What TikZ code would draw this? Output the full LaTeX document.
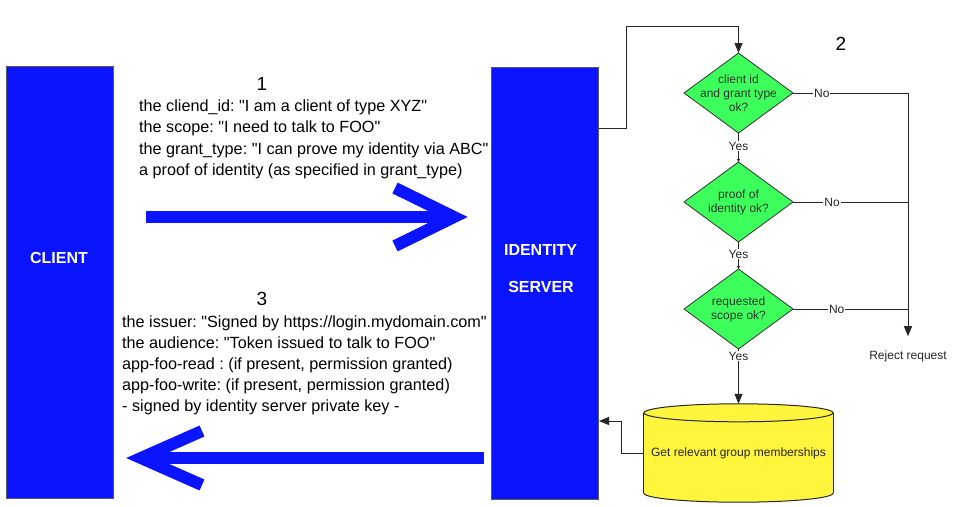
\documentclass[tikz,border=0pt]{standalone}
\usepackage{fontspec}
\setmainfont{Liberation Sans}
\usetikzlibrary{shapes.geometric,arrows.meta,backgrounds}
\definecolor{bblue}{HTML}{0A14FF}
\definecolor{dgreen}{HTML}{3CFF5C}
\definecolor{dyellow}{HTML}{FFF53C}
\newcommand{\qq}{\textquotedbl}
\frenchspacing
\begin{document}
\begin{tikzpicture}[x=1pt,y=-1pt,
  party/.style={draw=black!65, line width=1pt, fill=bblue, minimum width=107pt, minimum height=432pt, inner sep=0pt, anchor=north west},
  ptext/.style={text=white, font=\fontsize{16}{19}\selectfont\bfseries},
  body/.style={anchor=base west, inner sep=0pt, font=\fontsize{16.2}{19}\selectfont},
  num/.style={inner sep=0pt, font=\fontsize{19}{22}\selectfont},
  dia/.style={diamond, draw=black!80, line width=0.8pt, fill=dgreen, inner sep=0pt, outer sep=0pt, minimum width=109pt, minimum height=80pt},
  dtext/.style={align=center, inner sep=0pt, text=black!80, font=\fontsize{12}{14}\selectfont},
  small/.style={inner sep=1pt, text=black!85, font=\fontsize{12}{14}\selectfont},
  lbl/.style={small, fill=white},
  conn/.style={draw=black!85, line width=1pt},
  arr/.style={-{Triangle[length=10pt,width=8pt]}},
  tinyarr/.style={-{Triangle[length=3pt,width=3pt]}},
  bigarrow/.style={draw=bblue, line width=12pt, line join=miter, miter limit=4}
]
\useasboundingbox (0,0) rectangle (968,506);

% parties
\node[party] (client) at (5.5,66) {};
\node[party] (server) at (491,67) {};
\node[ptext] (clientlbl) at (59,258) {CLIENT};
\node[ptext] (idlbl) at (540.5,250) {IDENTITY};
\node[ptext] (srvlbl) at (541,287) {SERVER};

% step 1 text
\node[num] (n1) at (262,84) {1};
\node[body] (t11) at (139,111) {the cliend\_id: \qq I am a client of type XYZ\qq};
\node[body] (t12) at (139,132.5) {the scope: \qq I need to talk to FOO\qq};
\node[body] (t13) at (139,154) {the grant\_type: \qq I can prove my identity via ABC\qq};
\node[body] (t14) at (139,175.5) {a proof of identity (as specified in grant\_type)};

% step 3 text
\node[num] (n3) at (262,299) {3};
\node[body] (t31) at (122,327.5) {the issuer: \qq Signed by https://login.mydomain.com\qq};
\node[body] (t32) at (122,348.5) {the audience: \qq Token issued to talk to FOO\qq};
\node[body] (t33) at (122,369.5) {app-foo-read : (if present, permission granted)};
\node[body] (t34) at (122,390.5) {app-foo-write: (if present, permission granted)};
\node[body] (t35) at (122,411.5) {- signed by identity server private key -};

% big blue arrows
\coordinate (r0) at (146,217);
\coordinate (r1) at (454,217);
\coordinate (ra) at (395,188);
\coordinate (rb) at (395,246);
\draw[bigarrow] (r0) -- (r1);
\draw[bigarrow] (ra) -- (r1) -- (rb);
\coordinate (l0) at (484,458);
\coordinate (l1) at (141,458);
\coordinate (la) at (202,431);
\coordinate (lb) at (202,485);
\draw[bigarrow] (l0) -- (l1);
\draw[bigarrow] (la) -- (l1) -- (lb);

% step 2
\node[num] (n2) at (841,44) {2};
\node[dia] (d1) at (738.5,93) {};
\node[dtext] at (d1) {client id\\and grant type\\ok?};
\node[dia] (d2) at (738.5,202) {};
\node[dtext] at (d2) {proof of\\identity ok?};
\node[dia] (d3) at (738.5,309) {};
\node[dtext] at (d3) {requested\\scope ok?};
\node[small] (reject) at (908,356) {Reject request};

% database
\node[inner sep=0pt, minimum width=189pt, minimum height=80pt, font=\fontsize{12}{14}\selectfont, text=black!85] (db) at (738.5,453) {Get relevant group memberships};
\begin{scope}[on background layer]
  \draw[fill=dyellow, line width=1pt, draw=black!85] (db.south) ellipse [x radius=94.5pt, y radius=9pt];
  \fill[dyellow] (db.north west) rectangle (db.south east);
  \draw[line width=1pt, draw=black!85] (db.north west) -- (db.south west);
  \draw[line width=1pt, draw=black!85] (db.north east) -- (db.south east);
  \draw[fill=dyellow, line width=1pt, draw=black!85] (db.north) ellipse [x radius=94.5pt, y radius=9pt];
\end{scope}

% connectors
\draw[conn,arr] ([yshift=-61pt]server.north east) -| (626,26) -| (d1.north);
\draw[conn,tinyarr] (d1.south) -- node[lbl,pos=.45]{Yes} (d2.north);
\draw[conn,tinyarr] (d2.south) -- node[lbl,pos=.45]{Yes} (d3.north);
\draw[conn,arr] (d3.south) -- node[lbl,pos=.13]{Yes} ([yshift=9pt]db.north);
\draw[conn] (d1.east) -- node[lbl,pos=.25]{No} (d1.east -| reject.north);
\draw[conn] (d2.east) -- node[lbl,pos=.34]{No} (d2.east -| reject.north);
\draw[conn] (d3.east) -- node[lbl,pos=.38]{No} (d3.east -| reject.north);
\draw[conn,arr] (d1.east -| reject.north) -- ([yshift=13pt]reject.north);
\draw[conn,arr] (db.west) -- ++(-22,0) |- (server.east |- 0,421);
\end{tikzpicture}
\end{document}
